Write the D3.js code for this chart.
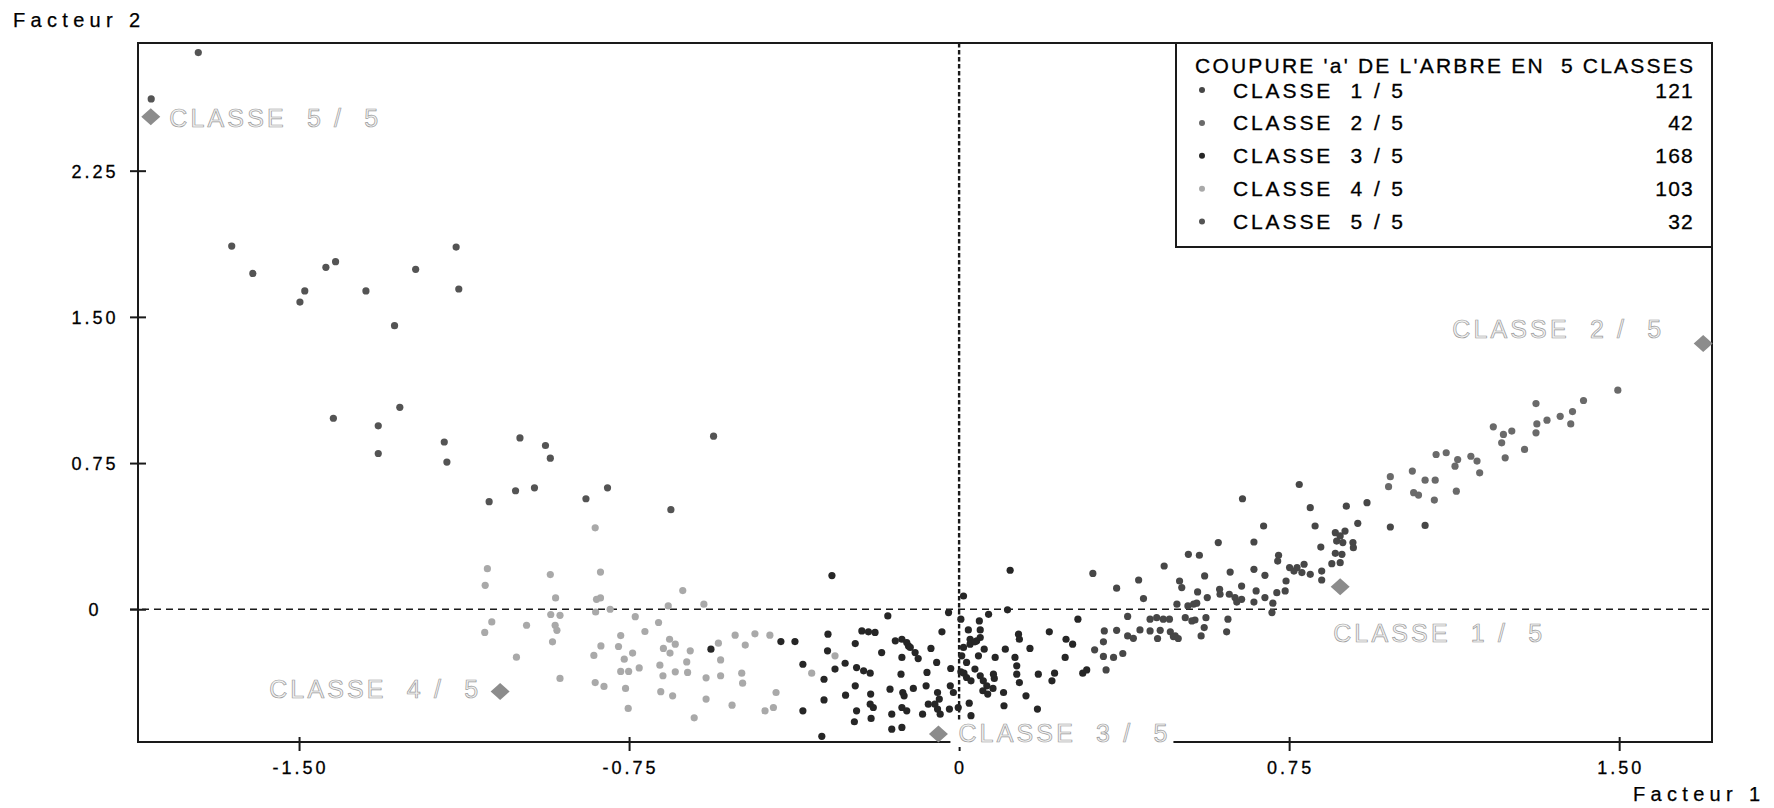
<!DOCTYPE html>
<html>
<head>
<meta charset="utf-8">
<script src="https://cdn.jsdelivr.net/npm/d3@7"></script>
<style>
  body { margin: 0; background: #ffffff; }
  svg { display: block; font-family: "Liberation Sans", Arial, sans-serif; }
  .pre { white-space: pre; }
</style>
</head>
<body>
<svg id="chart" width="1774" height="808"></svg>
<script>
// ---- Axis extents and ticks ----
const xDomain = [-1.866, 1.711];
const yDomain = [-0.681, 2.905];
const xTicks = [-1.5, -0.75, 0, 0.75, 1.5];
const xTickLabels = ["-1.50", "-0.75", "0", "0.75", "1.50"];
const yTicks = [0, 0.75, 1.5, 2.25];
const yTickLabels = ["0", "0.75", "1.50", "2.25"];

// ---- Classes of the tree cut ----
const legendTitle = "COUPURE 'a' DE L'ARBRE EN  5 CLASSES";
const classLegendNames = ["CLASSE  1 / 5", "CLASSE  2 / 5", "CLASSE  3 / 5", "CLASSE  4 / 5", "CLASSE  5 / 5"];
const classPlotNames = ["CLASSE  1 /  5", "CLASSE  2 /  5", "CLASSE  3 /  5", "CLASSE  4 /  5", "CLASSE  5 /  5"];
const classCounts = [121, 42, 168, 103, 32];
// class centres (Facteur 1, Facteur 2)
const centroids = [
  [0.866, 0.116], [1.691, 1.363], [-0.047, -0.640], [-1.043, -0.422], [-1.837, 2.527]
];

// ---- Individuals (Facteur 1, Facteur 2) per class ----
const class1Points = [
  [0.927,0.547],[0.880,0.529],[0.980,0.422],[1.059,0.430],[0.906,0.441],[0.809,0.427],[0.798,0.521],
  [0.773,0.640],[0.644,0.567],[0.692,0.427],[0.589,0.342],[0.670,0.345],[0.521,0.282],[0.546,0.277],
  [0.466,0.222],[0.855,0.393],[0.866,0.376],[0.877,0.401],[0.858,0.350],[0.872,0.342],[0.895,0.342],
  [0.896,0.316],[0.822,0.319],[0.855,0.287],[0.870,0.282],[0.847,0.234],[0.866,0.239],[0.784,0.231],
  [0.768,0.214],[0.726,0.277],[0.724,0.247],[0.751,0.214],[0.779,0.188],[0.798,0.179],[0.824,0.196],
  [0.824,0.150],[0.695,0.174],[0.670,0.205],[0.616,0.191],[0.558,0.171],[0.501,0.145],[0.506,0.111],
  [0.542,0.089],[0.564,0.060],[0.592,0.102],[0.593,0.077],[0.614,0.077],[0.627,0.060],[0.642,0.051],
  [0.642,0.119],[0.675,0.094],[0.695,0.060],[0.722,0.085],[0.741,0.094],[0.743,0.145],[0.761,0.196],
  [0.713,0.031],[0.711,-0.017],[0.670,0.037],[0.631,0.037],[0.533,0.026],[0.495,0.026],[0.611,-0.051],
  [0.608,-0.116],[0.561,-0.043],[0.557,-0.094],[0.550,-0.137],[0.536,-0.055],[0.514,-0.043],[0.480,-0.116],
  [0.491,-0.137],[0.449,-0.043],[0.464,-0.051],
  [0.304,0.184],[0.358,0.108],[0.408,0.150],[0.419,0.055],[0.383,-0.037],[0.330,-0.111],[0.358,-0.108],
  [0.383,-0.137],[0.396,-0.149],[0.328,-0.167],[0.308,-0.208],[0.328,-0.242],[0.351,-0.247],[0.372,-0.227],
  [0.334,-0.311],[0.434,-0.051],[0.478,-0.051],[0.529,-0.060],[0.411,-0.106],[0.434,-0.111],[0.457,-0.108],
  [0.451,-0.150],[0.487,-0.140],[0.498,-0.150],[0.520,0.017],[0.540,0.031]
];
const class2Points = [
  [1.497,1.124],[1.419,1.071],[1.311,1.055],[1.394,1.014],[1.366,0.990],[1.336,0.970],[1.313,0.951],
  [1.390,0.951],[1.311,0.905],[1.214,0.936],[1.237,0.897],[1.256,0.914],[1.233,0.854],[1.285,0.820],
  [1.241,0.777],[1.084,0.794],[1.107,0.803],[1.133,0.768],[1.127,0.734],[1.163,0.785],[1.177,0.760],
  [1.183,0.700],[1.130,0.606],[1.030,0.709],[1.059,0.662],[1.082,0.662],[0.980,0.680],[0.976,0.629],
  [1.033,0.598],[1.044,0.586],[1.080,0.560]
];
const class3Points = [
  [-0.289,0.173],[0.116,0.200],[0.010,0.068],[-0.162,-0.034],[-0.024,-0.017],[0.067,-0.026],[0.110,-0.003],
  [0.004,-0.051],[0.046,-0.060],[-0.564,-0.205],[-0.405,-0.166],[-0.373,-0.166],[-0.298,-0.128],[-0.221,-0.111],
  [-0.206,-0.116],[-0.191,-0.119],[-0.236,-0.176],[-0.145,-0.162],[-0.130,-0.154],[-0.115,-0.188],[-0.064,-0.201],
  [-0.039,-0.116],[0.021,-0.106],[0.048,-0.106],[0.025,-0.154],[0.040,-0.162],[0.135,-0.128],[0.137,-0.154],
  [0.161,-0.201],[0.205,-0.116],[0.243,-0.154],[0.258,-0.179],[0.270,-0.051],[0.281,-0.328],[0.290,-0.311],
  [0.217,-0.328],[0.211,-0.367],[0.241,-0.247],[0.180,-0.333],
  [-0.299,-0.213],[-0.282,-0.307],[-0.259,-0.277],[-0.355,-0.282],[-0.307,-0.359],[-0.307,-0.465],[-0.355,-0.521],
  [-0.312,-0.652],[-0.233,-0.299],[-0.217,-0.316],[-0.202,-0.328],[-0.236,-0.393],[-0.258,-0.441],[-0.201,-0.435],
  [-0.202,-0.487],[-0.195,-0.504],[-0.233,-0.521],[-0.238,-0.577],[-0.200,-0.560],[-0.176,-0.222],[-0.119,-0.171],
  [-0.111,-0.196],[-0.100,-0.222],[-0.093,-0.253],[-0.130,-0.247],[-0.132,-0.333],[-0.157,-0.410],[-0.128,-0.427],
  [-0.125,-0.444],[-0.130,-0.504],[-0.119,-0.521],[-0.153,-0.538],[-0.153,-0.615],[-0.130,-0.606],[-0.104,-0.406],
  [-0.083,-0.538],[-0.073,-0.324],[-0.051,-0.273],[-0.049,-0.427],[-0.045,-0.461],[-0.055,-0.487],[-0.049,-0.512],
  [-0.043,-0.538],[-0.070,-0.487],[-0.075,-0.393],[-0.019,-0.304],[-0.020,-0.393],[-0.013,-0.427],[-0.022,-0.512],
  [-0.002,-0.504],[0.004,-0.321],[0.011,-0.328],[0.017,-0.350],[0.027,-0.367],[0.006,-0.239],[0.010,-0.196],
  [0.025,-0.179],[0.036,-0.167],[0.048,-0.145],[0.017,-0.273],[0.036,-0.307],[0.023,-0.482],[0.027,-0.546],
  [0.044,-0.239],[0.057,-0.205],[0.048,-0.341],[0.055,-0.367],[0.063,-0.393],[0.054,-0.418],[0.065,-0.435],
  [0.077,-0.406],[0.080,-0.355],[0.078,-0.333],[0.082,-0.247],[0.101,-0.427],[0.102,-0.495],[0.105,-0.205],
  [0.127,-0.247],[0.131,-0.290],[0.131,-0.333],[0.137,-0.376],[0.152,-0.444],[0.178,-0.512]
];
const class4Points = [
  [-0.827,0.418],[-1.072,0.208],[-1.077,0.123],[-0.929,0.178],[-0.815,0.191],[-0.917,0.058],[-0.815,0.058],
  [-0.628,0.096],[-0.580,0.026],[-0.661,0.017],[-0.826,-0.014],[-0.793,0.000],[-0.928,-0.027],[-0.907,-0.031],
  [-0.736,-0.038],[-1.062,-0.065],[-0.983,-0.082],[-0.918,-0.082],[-0.914,-0.108],[-1.078,-0.119],[-0.683,-0.068],
  [-0.714,-0.114],[-0.924,-0.167],[-0.769,-0.135],[-0.814,-0.188],[-0.774,-0.191],[-0.658,-0.154],[-0.645,-0.179],
  [-0.509,-0.133],[-0.464,-0.126],[-0.430,-0.133],[-0.486,-0.184],[-0.547,-0.174],[-1.006,-0.246],[-0.830,-0.237],
  [-0.742,-0.225],[-0.761,-0.256],[-0.672,-0.201],[-0.657,-0.225],[-0.611,-0.213],[-0.619,-0.270],[-0.542,-0.260],
  [-0.680,-0.287],[-0.727,-0.301],[-0.769,-0.319],[-0.751,-0.319],[-0.673,-0.341],[-0.645,-0.321],[-0.617,-0.324],
  [-0.575,-0.352],[-0.542,-0.341],[-0.494,-0.328],[-0.492,-0.379],[-0.907,-0.355],[-0.827,-0.376],[-0.807,-0.396],
  [-0.758,-0.406],[-0.678,-0.423],[-0.651,-0.444],[-0.575,-0.461],[-0.516,-0.492],[-0.416,-0.427],[-0.422,-0.504],
  [-0.441,-0.521],[-0.752,-0.509],[-0.602,-0.557],[-0.824,0.051],[-0.282,-0.239],[-0.335,-0.328]
];
const class5Points = [
  [-1.729,2.856],[-1.836,2.618],[-1.653,1.863],[-1.605,1.723],[-1.498,1.576],[-1.487,1.633],[-1.439,1.754],
  [-1.417,1.783],[-1.348,1.633],[-1.283,1.455],[-1.235,1.744],[-1.143,1.858],[-1.137,1.643],[-1.422,0.980],
  [-1.320,0.941],[-1.271,1.036],[-1.320,0.799],[-1.170,0.858],[-1.164,0.755],[-0.998,0.879],[-0.940,0.840],
  [-0.929,0.775],[-1.068,0.552],[-1.008,0.608],[-0.965,0.623],[-0.848,0.567],[-0.799,0.623],[-0.655,0.511],
  [-0.558,0.888]
];

const classPoints = [class1Points, class2Points, class3Points, class4Points, class5Points];

// ---- Styling ----
const classColors = ["#474747", "#6a6a6a", "#262626", "#a9a9a9", "#545454"];
const drawOrder = [3, 2, 0, 1, 4];
const frame = { left: 138, top: 43, right: 1712, bottom: 742 };
const ink = "#1a1a1a";

const svg = d3.select("#chart");
const x = d3.scaleLinear().domain(xDomain).range([frame.left, frame.right]);
const y = d3.scaleLinear().domain(yDomain).range([frame.bottom, frame.top]);

// reference lines through the origin
svg.append("line")
  .attr("x1", frame.left - 8).attr("x2", frame.right)
  .attr("y1", y(0)).attr("y2", y(0))
  .attr("stroke", ink).attr("stroke-width", 1.5).attr("stroke-dasharray", "7,5");
svg.append("line")
  .attr("x1", x(0)).attr("x2", x(0))
  .attr("y1", frame.top).attr("y2", frame.bottom)
  .attr("stroke", ink).attr("stroke-width", 2.4).attr("stroke-dasharray", "4.5,2.5");

// individuals
drawOrder.forEach(ci => {
  svg.append("g").selectAll("circle")
    .data(classPoints[ci])
    .join("circle")
    .attr("cx", d => x(d[0]))
    .attr("cy", d => y(d[1]))
    .attr("r", 3.6)
    .attr("fill", classColors[ci]);
});

// frame
svg.append("rect")
  .attr("x", frame.left).attr("y", frame.top)
  .attr("width", frame.right - frame.left).attr("height", frame.bottom - frame.top)
  .attr("fill", "none").attr("stroke", ink).attr("stroke-width", 2);

// axes
const tickFont = 18;
const xAxis = d3.axisBottom(x).tickValues(xTicks).tickFormat((d, i) => xTickLabels[i]).tickSize(9).tickPadding(0);
const gx = svg.append("g").attr("transform", `translate(0,${frame.bottom})`).call(xAxis);
gx.select(".domain").remove();
gx.selectAll(".tick line").attr("y1", -5).attr("y2", 9).attr("stroke", ink).attr("stroke-width", 2);
gx.selectAll(".tick text")
  .attr("y", 0).attr("dy", 0)
  .attr("transform", "translate(1,32)")
  .attr("font-size", tickFont).attr("letter-spacing", 3).attr("fill", "#000")
  .attr("stroke", "#000").attr("stroke-width", 0.3)
  .attr("font-family", "Liberation Sans, Arial, sans-serif");

const yAxis = d3.axisLeft(y).tickValues(yTicks).tickFormat((d, i) => yTickLabels[i]).tickSize(8).tickPadding(0);
const gy = svg.append("g").attr("transform", `translate(${frame.left},0)`).call(yAxis);
gy.select(".domain").remove();
gy.selectAll(".tick line").attr("x1", -8).attr("x2", 8).attr("stroke", ink).attr("stroke-width", 2);
gy.selectAll(".tick text")
  .attr("x", -43).attr("dy", "0.36em")
  .attr("text-anchor", "middle")
  .attr("font-size", tickFont).attr("letter-spacing", 3).attr("fill", "#000")
  .attr("stroke", "#000").attr("stroke-width", 0.3)
  .attr("font-family", "Liberation Sans, Arial, sans-serif");

// axis titles
svg.append("text").attr("x", 13).attr("y", 26.5)
  .attr("font-size", 20).attr("textLength", 127).attr("lengthAdjust", "spacing")
  .attr("fill", "#000").attr("stroke", "#000").attr("stroke-width", 0.25).text("Facteur 2");
svg.append("text").attr("x", 1633).attr("y", 801)
  .attr("font-size", 20).attr("textLength", 127).attr("lengthAdjust", "spacing")
  .attr("fill", "#000").attr("stroke", "#000").attr("stroke-width", 0.25).text("Facteur 1");

// legend
const legend = { left: 1176, top: frame.top, right: frame.right, bottom: 247 };
const lg = svg.append("g");
lg.append("rect")
  .attr("x", legend.left).attr("y", legend.top)
  .attr("width", legend.right - legend.left).attr("height", legend.bottom - legend.top)
  .attr("fill", "#fff").attr("stroke", ink).attr("stroke-width", 2);
lg.append("text").attr("class", "pre")
  .attr("x", 1195).attr("y", 73)
  .attr("font-size", 21).attr("textLength", 498).attr("lengthAdjust", "spacing")
  .attr("fill", "#000").attr("stroke", "#000").attr("stroke-width", 0.3).text(legendTitle);
const rowY = i => 90 + i * 32.9;
classLegendNames.forEach((name, i) => {
  lg.append("circle").attr("cx", 1202).attr("cy", rowY(i)).attr("r", 3).attr("fill", classColors[i]);
  lg.append("text").attr("class", "pre")
    .attr("x", 1233).attr("y", rowY(i) + 7.5)
    .attr("font-size", 21).attr("textLength", 170).attr("lengthAdjust", "spacing")
    .attr("fill", "#000").attr("stroke", "#000").attr("stroke-width", 0.3).text(name);
  lg.append("text")
    .attr("x", 1694).attr("y", rowY(i) + 7.5)
    .attr("text-anchor", "end")
    .attr("font-size", 21).attr("letter-spacing", 1.2)
    .attr("fill", "#000").attr("stroke", "#000").attr("stroke-width", 0.3).text(classCounts[i]);
});

// class centres with their names
const labelPlacement = [
  { anchor: "start", dx: -7, dy: 55 },
  { anchor: "end", dx: -42, dy: -6 },
  { anchor: "start", dx: 20, dy: 8 },
  { anchor: "end", dx: -22, dy: 6 },
  { anchor: "start", dx: 18.5, dy: 10 }
];
const labelWidth = 209;
const diamond = (w, h) => `M0,${-h}L${w},0L0,${h}L${-w},0Z`;

centroids.forEach((c, i) => {
  const cx = x(c[0]), cy = y(c[1]);
  const p = labelPlacement[i];
  const tx = cx + p.dx, ty = cy + p.dy;
  const left = p.anchor === "start" ? tx : tx - labelWidth;
  svg.append("rect")
    .attr("x", left - 8).attr("y", ty - 20)
    .attr("width", labelWidth + 14).attr("height", 25)
    .attr("fill", "#fff");
  svg.append("text").attr("class", "pre")
    .attr("x", tx).attr("y", ty)
    .attr("text-anchor", p.anchor)
    .attr("font-size", 25).attr("textLength", labelWidth).attr("lengthAdjust", "spacing")
    .attr("fill", "#f3f3f3").attr("stroke", "#9a9a9a").attr("stroke-width", 0.7)
    .text(classPlotNames[i]);
  svg.append("path")
    .attr("transform", `translate(${cx},${cy})`)
    .attr("d", diamond(9.5, 8.5))
    .attr("fill", "#8c8c8c");
});
</script>
</body>
</html>
